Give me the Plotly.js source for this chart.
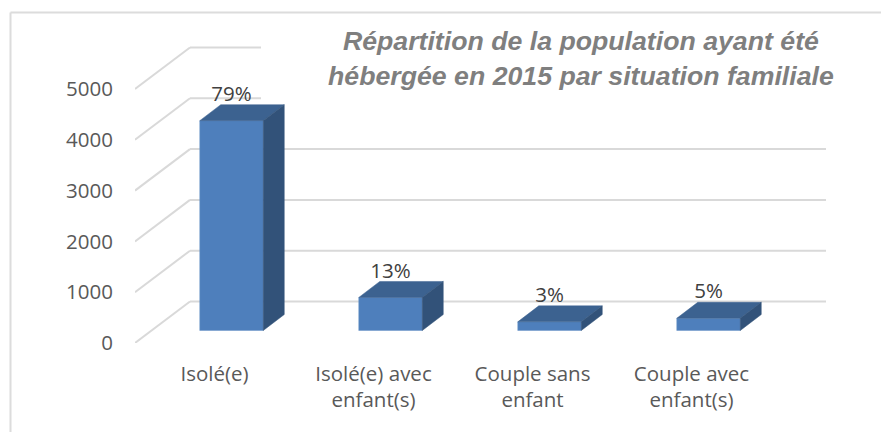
<!DOCTYPE html>
<html><head><meta charset="utf-8">
<script src="https://cdn.plot.ly/plotly-3.0.1.min.js"></script>
<style>html,body{margin:0;padding:0;background:#fff}</style></head>
<body><div id="chart" style="width:881px;height:432px"></div>
<script>
const categories = ["Isolé(e)", "Isolé(e) avec<br>enfant(s)", "Couple sans<br>enfant", "Couple avec<br>enfant(s)"];
const values = [4130, 650, 170, 240];
const percentLabels = ["79%", "13%", "3%", "5%"];
const yTicks = [0, 1000, 2000, 3000, 4000, 5000];
const titleText = "<b><i>Répartition de la population ayant été<br>hébergée en 2015 par situation familiale</i></b>";

const W = 881, H = 432, L = 135, R = 826, T = 40, B = 343;
const unitsPerPx = 5000 / 254, catPerPx = 1 / 159;
const xMin = -0.5, xMax = xMin + (R - L) * catPerPx;
const yMax = (B - T) * unitsPerPx;
const backDx = 55 * catPerPx, backDy = 41.5 * unitsPerPx;   // floor depth
const barOffX = 17 * catPerPx, barBase = 12.5 * unitsPerPx;  // bar front plane
const barW = 63.5 * catPerPx, depthX = 21 * catPerPx, depthY = 16 * unitsPerPx;
const lineEnd = v => v >= 4000 ? xMin + (261 - L) * catPerPx : xMax;

const shapes = [];
yTicks.forEach(v => {
  const style = {color: "#d9d9d9", width: 2};
  shapes.push({type: "line", layer: "below", xref: "x", yref: "y", x0: xMin, y0: v, x1: xMin + backDx, y1: v + backDy, line: style});
  shapes.push({type: "line", layer: "below", xref: "x", yref: "y", x0: xMin + backDx, y0: v + backDy, x1: lineEnd(v), y1: v + backDy, line: style});
});
// frame: only the top and left edges show in the picture
const frame = {color: "#dcdcdc", width: 2};
const px = p => (p - L) / (R - L), py = p => (B - p) / (B - T);
shapes.push({type: "line", layer: "below", xref: "paper", yref: "paper", x0: px(10.5), y0: py(12.5), x1: px(881), y1: py(12.5), line: frame});
shapes.push({type: "line", layer: "below", xref: "paper", yref: "paper", x0: px(10.5), y0: py(12.5), x1: px(10.5), y1: py(432), line: frame});

const traces = [];
traces.push({type: "bar", x: values.map((_, i) => i + barOffX), y: values, base: values.map(() => barBase),
  width: barW, marker: {color: "#4e7fbc", line: {color: "#6d96c8", width: 0.5}}, hoverinfo: "skip", showlegend: false});
values.forEach((v, i) => {
  const x0 = i + barOffX - barW / 2, x1 = i + barOffX + barW / 2, yb = barBase, yt = barBase + v;
  traces.push({type: "scatter", mode: "lines", fill: "toself", fillcolor: "#3c6290", line: {color: "#3c6290", width: 0.5}, showlegend: false, hoverinfo: "skip",
    x: [x0, x1, x1 + depthX, x0 + depthX, x0], y: [yt, yt, yt + depthY, yt + depthY, yt]});
  traces.push({type: "scatter", mode: "lines", fill: "toself", fillcolor: "#325279", line: {color: "#325279", width: 0.5}, showlegend: false, hoverinfo: "skip",
    x: [x1, x1 + depthX, x1 + depthX, x1, x1], y: [yb, yb + depthY, yt + depthY, yt, yb]});
});
traces.push({type: "scatter", mode: "text", x: values.map((_, i) => i + barOffX), y: values.map(v => v + barBase + depthY - 25),
  text: percentLabels, textposition: "top center", textfont: {family: "Open Sans", size: 20.5, color: "#404040"}, showlegend: false, hoverinfo: "skip"});

const layout = {
  width: W, height: H, margin: {l: L, r: W - R, t: T, b: H - B, pad: 0},
  paper_bgcolor: "#fff", plot_bgcolor: "rgba(0,0,0,0)", showlegend: false, barmode: "overlay",
  shapes,
  xaxis: {range: [xMin, xMax], tickmode: "array", tickvals: categories.map((_, i) => i), ticktext: categories,
    showgrid: false, zeroline: false, showline: false, ticks: "", tickangle: 0, ticklabelstandoff: 16,
    tickfont: {family: "Open Sans", size: 20.5, color: "#595959"}},
  yaxis: {range: [0, yMax], tickmode: "array", tickvals: yTicks, ticktext: yTicks.map(String),
    showgrid: false, zeroline: false, showline: false, ticks: "", ticklabelstandoff: 21,
    tickfont: {family: "Open Sans", size: 20.5, color: "#595959"}},
  annotations: [{text: titleText, xref: "paper", yref: "paper", x: px(581), y: py(58.5),
    xanchor: "center", yanchor: "middle", showarrow: false, align: "center",
    font: {family: "Liberation Sans", size: 26.7, color: "#7f7f7f"}}]
};
Plotly.newPlot("chart", traces, layout, {displayModeBar: false, staticPlot: true});
</script></body></html>
